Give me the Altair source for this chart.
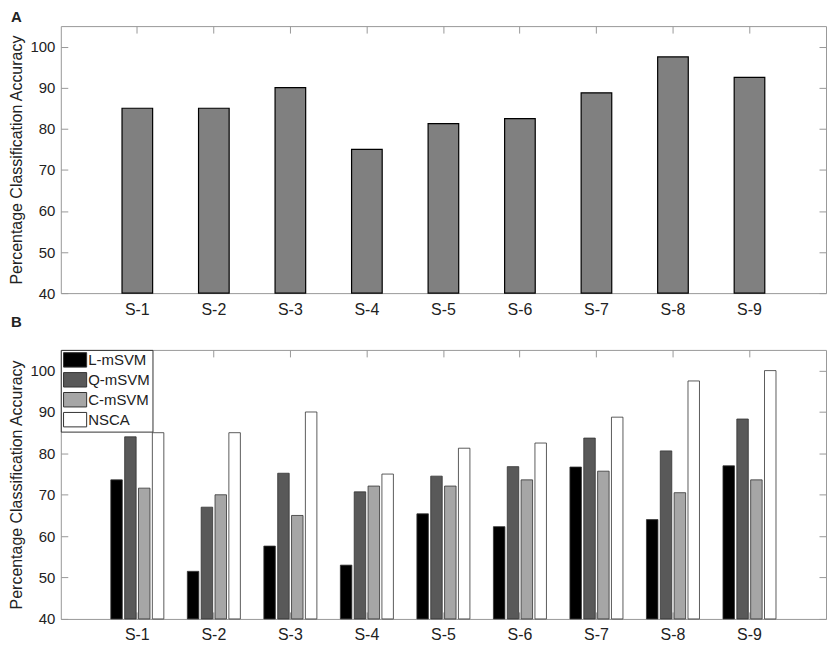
import altair as alt
import pandas as pd

subjects = ["S-1", "S-2", "S-3", "S-4", "S-5", "S-6", "S-7", "S-8", "S-9"]
methods = ["L-mSVM", "Q-mSVM", "C-mSVM", "NSCA"]
method_colors = ["#000000", "#595959", "#a6a6a6", "#ffffff"]

# Panel A: NSCA accuracy
nsca_a = [85.0, 85.0, 90.0, 75.0, 81.25, 82.5, 88.75, 97.5, 92.5]

# Panel B: method comparison
l_msvm = [73.6, 51.5, 57.6, 53.0, 65.4, 62.3, 76.7, 64.0, 77.0]
q_msvm = [84.0, 67.0, 75.2, 70.7, 74.5, 76.8, 83.7, 80.6, 88.3]
c_msvm = [71.6, 70.0, 65.0, 72.1, 72.1, 73.6, 75.7, 70.5, 73.6]
nsca_b = [85.0, 85.0, 90.0, 75.0, 81.25, 82.5, 88.75, 97.5, 100.0]

tick_vals = [40, 50, 60, 70, 80, 90, 100]

df_a = pd.DataFrame({"subject": subjects, "acc": nsca_a})
rows = []
for m, vals in zip(methods, [l_msvm, q_msvm, c_msvm, nsca_b]):
    for s, v in zip(subjects, vals):
        rows.append({"subject": s, "method": m, "acc": v})
df_b = pd.DataFrame(rows)

FONT = "Liberation Sans"
TXT = "#222222"
TICK = 7


def xscale(pi):
    return alt.Scale(domain=subjects, paddingInner=pi, paddingOuter=(1 + pi) / 2)


def yscale():
    return alt.Scale(domain=[40, 105], nice=False, zero=False)


def left_axis():
    return alt.Axis(orient="left", values=tick_vals, title="Percentage Classification Accuracy",
                    offset=-TICK, tickSize=TICK, labelPadding=6, titlePadding=5,
                    labelFontSize=15, domain=False, grid=False)


def bottom_axis():
    return alt.Axis(orient="bottom", title=None, offset=-TICK, tickSize=TICK, labelPadding=8,
                    labelFontSize=16, labelAngle=0, domain=False, grid=False)


def top_axis():
    return alt.Axis(orient="top", title=None, labels=False, offset=-TICK, tickSize=TICK,
                    domain=False, grid=False)


def right_axis():
    return alt.Axis(orient="right", title=None, labels=False, values=tick_vals, offset=-TICK,
                    tickSize=TICK, domain=False, grid=False)


# ---- Panel A ----
bars_a = alt.Chart(df_a).mark_bar(fill="#808080", stroke="#000000", strokeWidth=1.2).encode(
    x=alt.X("subject:N", scale=xscale(0.6), axis=bottom_axis()),
    y=alt.Y("acc:Q", scale=yscale(), axis=left_axis()),
    y2=alt.datum(40),
)
frame_a = alt.Chart(df_a).mark_point(opacity=0).encode(
    x=alt.X("subject:N", scale=xscale(0.6), axis=top_axis()),
    y=alt.Y("acc:Q", scale=yscale(), axis=right_axis()),
)
chart_a = alt.layer(bars_a, frame_a).resolve_axis(x="independent", y="independent").properties(
    width=768, height=268,
    title=alt.TitleParams("A", anchor="start", frame="group", dx=-50, offset=1,
                          fontSize=15, fontWeight="bold", font=FONT, color=TXT),
)

# ---- Panel B ----
bars_b = alt.Chart(df_b).mark_bar(stroke="#333333", strokeWidth=0.8).encode(
    x=alt.X("subject:N", scale=xscale(0.307), axis=bottom_axis()),
    xOffset=alt.XOffset("method:N", sort=methods, scale=alt.Scale(paddingInner=0.17)),
    y=alt.Y("acc:Q", scale=yscale(), axis=left_axis()),
    y2=alt.datum(40),
    color=alt.Color("method:N", sort=methods,
                    scale=alt.Scale(domain=methods, range=method_colors),
                    legend=alt.Legend(title=None, orient="top-left", offset=0, padding=2,
                                      strokeColor="#333333", fillColor="white",
                                      symbolType="M-1,-1L2.2,-1L2.2,1L-1,1Z",
                                      symbolSize=210, symbolStrokeColor="#333333",
                                      symbolStrokeWidth=1, symbolOpacity=1,
                                      labelFontSize=15, labelFont=FONT, labelColor=TXT,
                                      labelOffset=9.5, rowPadding=0, cornerRadius=0)),
)
frame_b = alt.Chart(df_b).mark_point(opacity=0).encode(
    x=alt.X("subject:N", scale=xscale(0.307), axis=top_axis()),
    y=alt.Y("acc:Q", scale=yscale(), axis=right_axis()),
)
chart_b = alt.layer(bars_b, frame_b).resolve_axis(x="independent", y="independent").properties(
    width=768, height=270,
    title=alt.TitleParams("B", anchor="start", frame="group", dx=-50, offset=20,
                          fontSize=15, fontWeight="bold", font=FONT, color=TXT),
)

chart = alt.vconcat(chart_a, chart_b, spacing=-4).resolve_legend(color="independent").resolve_scale(
    color="independent"
).properties(padding=0).configure_view(
    stroke="#999999", strokeWidth=1
).configure_axis(
    labelFont=FONT, labelColor=TXT, tickColor="#999999", tickWidth=1,
    titleFont=FONT, titleFontSize=16, titleFontWeight="normal", titleColor=TXT,
)

chart.save("out.html", embed_options={"renderer": "svg", "actions": False})
